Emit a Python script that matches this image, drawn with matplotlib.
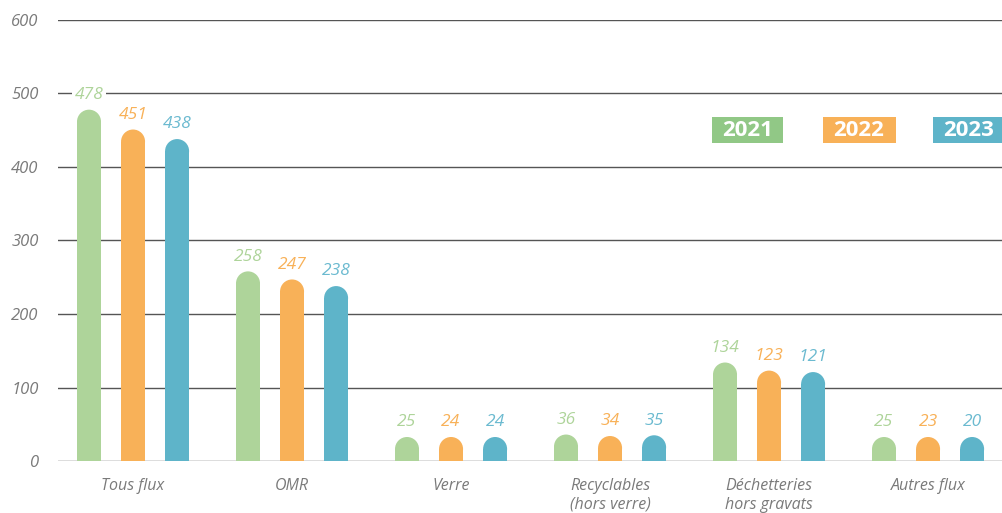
import matplotlib.pyplot as plt
from matplotlib.patches import Ellipse, Rectangle

categories = ["Tous flux", "OMR", "Verre", "Recyclables\n(hors verre)",
              "Déchetteries\nhors gravats", "Autres flux"]
years = ["2021", "2022", "2023"]
v2021 = [478, 258, 25, 36, 134, 25]
v2022 = [451, 247, 24, 34, 123, 23]
v2023 = [438, 238, 24, 35, 121, 20]
yticks = [0, 100, 200, 300, 400, 500, 600]

bar_colors = ["#AED49A", "#F8B158", "#5EB4C9"]
badge_colors = ["#91C886", "#F8B158", "#5EB4C9"]
label_colors = ["#AED49A", "#F8B158", "#6BBAD0"]

plt.rcParams['font.family'] = ['Open Sans', 'DejaVu Sans']

W, H = 1002, 513
fig = plt.figure(figsize=(W / 100, H / 100), dpi=100)
ax = fig.add_axes([58 / W, 52 / H, 944 / W, 441 / H])
ax.set_xlim(-0.472, 5.465)
ax.set_ylim(0, 600)

for s in ax.spines.values():
    s.set_visible(False)
ax.set_yticks(yticks)
ax.tick_params(axis='y', length=0, pad=14, labelsize=12, labelcolor="#7a7a7a")
for lab in ax.get_yticklabels():
    lab.set_fontstyle('italic')
for t in yticks:
    ax.axhline(t, color="#555555", lw=1.0, zorder=1)

ax.set_xticks(range(len(categories)))
ax.set_xticklabels(categories, fontsize=11.5, color="#7a7a7a", fontstyle='italic',
                   linespacing=1.25)
ax.tick_params(axis='x', length=0, pad=12)

width = 0.151
offset = 0.277
# radius of the rounded top in y data units (half a bar width in pixels)
px_x = ax.bbox.width / (ax.get_xlim()[1] - ax.get_xlim()[0])
px_y = ax.bbox.height / (ax.get_ylim()[1] - ax.get_ylim()[0])
rh = (width / 2) * px_x / px_y

series = [v2021, v2022, v2023]
for k, vals in enumerate(series):
    for i, v in enumerate(vals):
        top = max(v, 2 * rh)
        x = i + (k - 1) * offset
        ax.bar(x, top - rh, width, color=bar_colors[k], zorder=2, linewidth=0)
        ax.add_patch(Ellipse((x, top - rh), width, 2 * rh, color=bar_colors[k],
                             zorder=2, linewidth=0))
        ax.text(x, top + 20, str(v), ha='center', va='center', fontsize=12.5,
                fontstyle='italic', color=label_colors[k], zorder=3,
                bbox=dict(facecolor='white', edgecolor='none', pad=1.5))

# legend badges
badge_left = [712, 823, 933]
badge_w = [71, 73, 75]
for k, y in enumerate(years):
    fig.patches.append(Rectangle((badge_left[k] / W, 1 - 143 / H), badge_w[k] / W,
                                 26 / H, transform=fig.transFigure,
                                 facecolor=badge_colors[k], edgecolor='none'))
    fig.text((badge_left[k] + 35.5) / W, 1 - 130 / H, y, ha='center', va='center',
             fontsize=16, fontweight='bold', color='white')

fig.savefig("out.png", dpi=100)
